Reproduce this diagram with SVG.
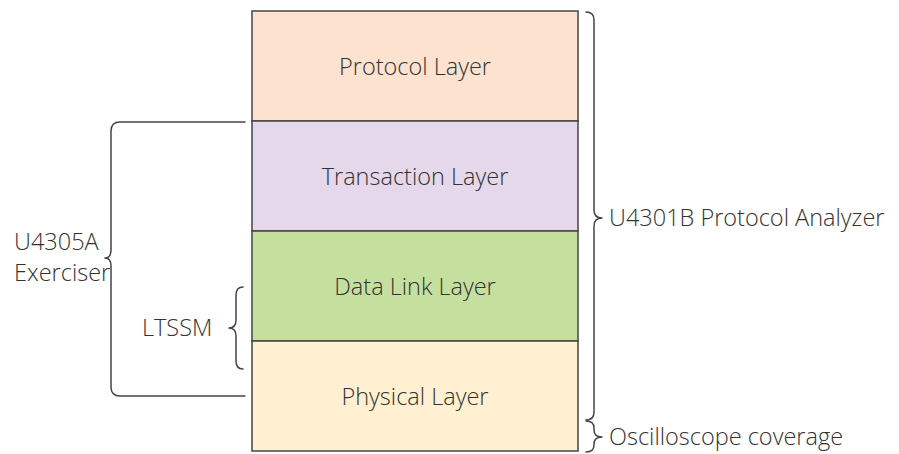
<svg xmlns="http://www.w3.org/2000/svg" width="899" height="454" viewBox="0 0 899 454">
<style>
.layer{stroke:#444;stroke-width:1.5}
.lbl{font-family:"Open Sans","Liberation Sans",sans-serif;font-weight:300;font-size:23.5px;fill:#333}
.brace{fill:none;stroke:#444;stroke-width:1.5;stroke-linecap:round;stroke-linejoin:round}
</style>
<rect width="899" height="454" fill="#fff"/>
<g id="protocol-layer">
<rect class="layer" x="252" y="11" width="326" height="110" fill="#fde2d0"/>
<text class="lbl" x="415" y="75" text-anchor="middle">Protocol Layer</text>
</g>
<g id="transaction-layer">
<rect class="layer" x="252" y="121" width="326" height="110" fill="#e4d8ea"/>
<text class="lbl" x="415" y="185" text-anchor="middle">Transaction Layer</text>
</g>
<g id="data-link-layer">
<rect class="layer" x="252" y="231" width="326" height="110" fill="#c5df9f"/>
<text class="lbl" x="415" y="295" text-anchor="middle">Data Link Layer</text>
</g>
<g id="physical-layer">
<rect class="layer" x="252" y="341" width="326" height="110" fill="#fff0d2"/>
<text class="lbl" x="415" y="405" text-anchor="middle">Physical Layer</text>
</g>
<g id="connectors">
<path class="brace" d="M586,12 Q594,12 594,20 L594,210 Q594,218 602,218 Q594,218 594,226 L594,412 Q594,420 586,420"/>
<path class="brace" d="M586,421 Q594,421 594,428 L594,430 Q594,437 602,437 Q594,437 594,444 L594,445 Q594,452 586,452"/>
<path class="brace" d="M245,122 L120,122 Q111,122 111,131 L111,250 Q111,258 105,258 Q111,258 111,266 L111,387 Q111,396 120,396 L245,396"/>
<path class="brace" d="M243,287 Q236,287 236,295 L236,320 Q236,328 229,328 Q236,328 236,336 L236,361 Q236,369 243,369"/>
</g>
<g id="labels">
<text class="lbl" x="609" y="226">U4301B Protocol Analyzer</text>
<text class="lbl" x="609" y="445">Oscilloscope coverage</text>
<text class="lbl" x="14" y="250">U4305A</text>
<text class="lbl" x="14" y="281">Exerciser</text>
<text class="lbl" x="142" y="336">LTSSM</text>
</g>
</svg>
